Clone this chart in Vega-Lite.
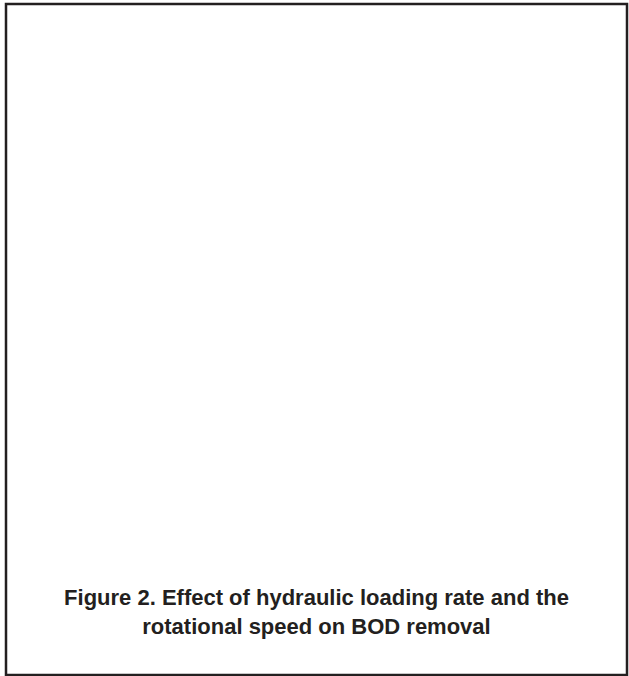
{
  "$schema": "https://vega.github.io/schema/vega-lite/v6.json",
  "autosize": {"type": "none"},
  "width": 621,
  "height": 671,
  "padding": {"left": 6, "top": 4, "right": 2, "bottom": 1},
  "background": "white",
  "view": {"stroke": "#231f20", "strokeWidth": 2.5, "fill": "white"},
  "data": {"values": []},
  "mark": {"type": "point", "opacity": 0},
  "encoding": {},
  "title": {
    "text": ["Figure 2. Effect of hydraulic loading rate and the", "rotational speed on BOD removal"],
    "orient": "bottom",
    "anchor": "middle",
    "offset": -87,
    "font": "Liberation Sans",
    "fontSize": 22,
    "fontWeight": "bold",
    "color": "#231f20",
    "lineHeight": 29
  },
  "config": {
    "view": {"stroke": "#231f20", "strokeWidth": 2.5}
  }
}
